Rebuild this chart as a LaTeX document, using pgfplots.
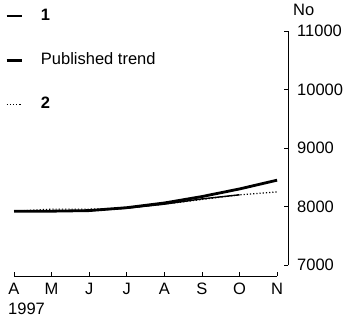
\documentclass[border=0pt]{standalone}
\usepackage{fontspec}
\setmainfont{Liberation Sans}
\usepackage{pgfplots}
\pgfplotsset{compat=1.18}
\begin{document}
\fontsize{16.5}{19}\selectfont
\begin{tikzpicture}
\begin{axis}[
  scale only axis, width=274pt, height=245pt,
  xmin=0, xmax=7.29, ymin=6812, ymax=11000,
  clip=false,
  axis x line*=bottom, axis y line*=right,
  x axis line style={-, shorten >=11pt, line width=0.8pt},
  y axis line style={-, shorten <=10.5pt, line width=0.8pt},
  xtick={0,...,7}, xticklabels={A,M,J,J,A,S,O,N},
  ytick={7000,8000,9000,10000,11000},
  yticklabels={7000,8000,9000,10000,11000},
  scaled y ticks=false,
  tick align=inside, major tick length=4pt,
  tick style={black, line width=0.8pt},
  xticklabel style={inner sep=0pt, anchor=north, yshift=-7pt},
  yticklabel style={inner sep=0pt, anchor=west, xshift=9pt},
  /pgf/number format/assume math mode=true,
  legend style={at={(rel axis cs:-0.033,1.09)}, anchor=north west, draw=none, fill=none,
    row sep=30pt, column sep=18pt, inner sep=0pt, nodes={inner sep=0pt, anchor=west}},
  legend cell align=left,
  legend image code/.code={\draw[#1] (0pt,0pt) -- (15pt,0pt);},
]
\addplot[black, line width=1.4pt] coordinates {(0,7920) (1,7920) (2,7930) (3,7970) (4,8040) (5,8130) (6,8200)};
\addlegendentry{\textbf{1}}
\addplot[black, line width=2.8pt] coordinates {(0,7920) (1,7920) (2,7930) (3,7980) (4,8060) (5,8170) (6,8300) (7,8450)};
\addlegendentry{Published trend}
\addplot[black, line width=1.2pt, dotted] coordinates {(0,7920) (1,7955) (2,7955) (3,7975) (4,8040) (5,8120) (6,8200) (7,8250)};
\addlegendentry{\textbf{2}}
\node[anchor=south west, inner sep=0pt] at (rel axis cs:1,1) [xshift=5pt, yshift=15pt] {No};
\node[anchor=north west, inner sep=0pt] at (rel axis cs:0,0) [xshift=-6pt, yshift=-27pt] {1997};
\end{axis}
\pgfresetboundingbox
\path[use as bounding box] (-14pt,-44pt) rectangle (330pt,276pt);
\end{tikzpicture}
\end{document}
